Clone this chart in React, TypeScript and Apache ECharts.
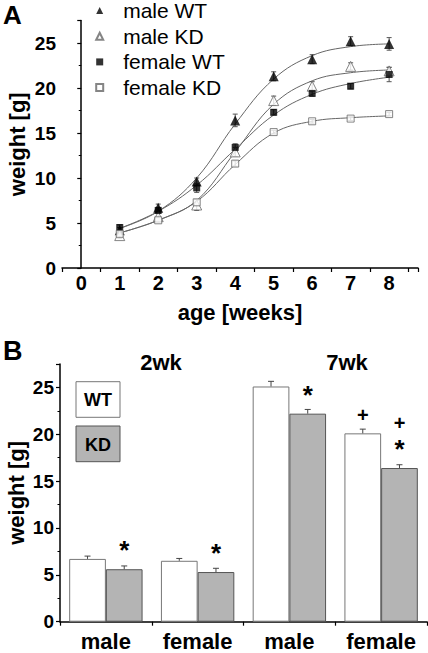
import React, { useEffect, useRef } from 'react';
import * as echarts from 'echarts';

// ---------- Panel A data ----------
const weeks = [1, 2, 3, 4, 5, 6, 7, 8];
const seriesNames = ['male WT', 'male KD', 'female WT', 'female KD'];
const maleWT = [4.2, 6.7, 9.6, 16.4, 21.3, 23.2, 25.2, 24.9];
const maleKD = [3.6, 5.7, 7.0, 12.9, 18.6, 20.2, 22.4, 21.9];
const femaleWT = [4.5, 6.4, 8.9, 13.4, 17.3, 19.4, 20.2, 21.5];
const femaleKD = [3.8, 5.3, 7.3, 11.6, 15.1, 16.3, 16.6, 17.1];
const maleWTErr = [0.3, 0.4, 0.4, 0.7, 0.5, 0.5, 0.5, 0.7];
const maleKDErr = [0.3, 0.4, 0.6, 0.5, 0.5, 0.5, 0.4, 0.4];
const femaleWTErr = [0.3, 0.3, 0.5, 0.4, 0.3, 0.3, 0.3, 0.8];
const femaleKDErr = [0.2, 0.2, 0.3, 0.3, 0.2, 0.2, 0.2, 0.2];
// fitted curves at each week
const maleWTFit = [4.4, 6.3, 10.0, 16.0, 21.0, 23.6, 24.6, 24.9];
const maleKDFit = [3.9, 5.3, 7.5, 12.9, 18.2, 20.8, 21.7, 22.0];
const femaleWTFit = [4.4, 6.3, 9.2, 13.2, 17.0, 19.3, 20.5, 21.2];
const femaleKDFit = [3.9, 5.3, 7.4, 11.5, 15.0, 16.3, 16.7, 16.9];

// ---------- Panel B data ----------
const groups = ['male', 'female', 'male', 'female'];
const ageTitles = ['2wk', '7wk'];
const wtBars = [6.7, 6.5, 25.1, 20.1];
const kdBars = [5.6, 5.3, 22.2, 16.4];
const wtBarErr = [0.3, 0.25, 0.55, 0.45];
const kdBarErr = [0.35, 0.4, 0.45, 0.35];
const wtMarks = ['', '', '', '+'];
const kdMarks = ['*', '*', '*', '+\n*'];

const F = "'Liberation Sans', Arial, Helvetica, sans-serif";
const AX = '#000';

function pts(ys: number[]) {
  return weeks.map((w, i) => [w, ys[i]]);
}
function errPts(ys: number[], es: number[]) {
  return weeks.map((w, i) => [w, ys[i], es[i]]);
}
function markText(m: string) {
  return m
    .split('\n')
    .map((c) => (c === '*' ? '{s|*}' : c === '+' ? '{p|+}' : ''))
    .join('\n');
}

export default function App() {
  const ref = useRef<HTMLDivElement>(null);
  useEffect(() => {
    const chart = echarts.init(ref.current!, null, { renderer: 'svg' });

    const errRenderA = (params: any, api: any) => {
      const x = api.value(0);
      const y = api.value(1);
      const e = api.value(2);
      const t = api.coord([x, y + e]);
      const b = api.coord([x, y - e]);
      const hw = 2.5;
      const st = { stroke: '#555', lineWidth: 1 };
      return {
        type: 'group',
        children: [
          { type: 'line', shape: { x1: t[0], y1: t[1], x2: b[0], y2: b[1] }, style: st },
          { type: 'line', shape: { x1: t[0] - hw, y1: t[1], x2: t[0] + hw, y2: t[1] }, style: st },
          { type: 'line', shape: { x1: b[0] - hw, y1: b[1], x2: b[0] + hw, y2: b[1] }, style: st },
        ],
      };
    };

    const errRenderB = (params: any, api: any) => {
      const idx = api.value(0);
      const v = api.value(1);
      const e = api.value(2);
      const side = api.value(3);
      const band = api.size([1, 0])[0];
      const base = api.coord([idx, v]);
      const top = api.coord([idx, v + e]);
      const x = base[0] + side * 0.2 * band;
      const hw = 3;
      const st = { stroke: '#444', lineWidth: 1 };
      return {
        type: 'group',
        children: [
          { type: 'line', shape: { x1: x, y1: base[1], x2: x, y2: top[1] }, style: st },
          { type: 'line', shape: { x1: x - hw, y1: top[1], x2: x + hw, y2: top[1] }, style: st },
        ],
      };
    };

    const fits = [maleWTFit, maleKDFit, femaleWTFit, femaleKDFit];
    const vals = [maleWT, maleKD, femaleWT, femaleKD];
    const errs = [maleWTErr, maleKDErr, femaleWTErr, femaleKDErr];
    const symbols = ['triangle', 'triangle', 'rect', 'rect'];
    const sizes = [10, 10, 7, 7];
    const filled = [true, false, true, false];

    const yAxisCommon = (gridIndex: number, gap: number) => ({
      type: 'value',
      gridIndex,
      min: 0,
      max: 27.5,
      interval: 5,
      axisLine: { show: true, lineStyle: { color: AX, width: 1.5 } },
      axisTick: { show: true, length: 4, lineStyle: { color: AX, width: 1.2 } },
      minorTick: { show: true, splitNumber: 2, length: 2.5, lineStyle: { color: AX, width: 1 } },
      splitLine: { show: false },
      axisLabel: {
        color: AX,
        fontFamily: F,
        fontWeight: 'bold',
        fontSize: 19,
        margin: 6,
        formatter: (v: number) => (v % 5 === 0 ? String(v) : ''),
      },
      name: 'weight [g]',
      nameLocation: 'middle',
      nameRotate: 90,
      nameGap: gap,
      nameMoveOverlap: false,
      nameTextStyle: { color: AX, fontFamily: F, fontWeight: 'bold', fontSize: 22 },
    });

    const richMarks = {
      s: { fontFamily: F, fontWeight: 'bold', fontSize: 26, lineHeight: 29, color: '#000' },
      p: { fontFamily: F, fontWeight: 'bold', fontSize: 20, lineHeight: 22.5, color: '#000' },
    };

    const option: any = {
      animation: false,
      backgroundColor: '#fff',
      grid: [
        { left: 62, top: 20.5, width: 356, height: 247.5, outerBoundsMode: 'none', containLabel: false },
        { left: 60, top: 364, width: 367, height: 257.7, outerBoundsMode: 'none', containLabel: false },
      ],
      legend: {
        data: seriesNames,
        orient: 'vertical',
        left: 95.2,
        top: 0,
        padding: 0,
        itemWidth: 7,
        itemHeight: 7,
        itemGap: 4.7,
        selectedMode: false,
        textStyle: { fontFamily: F, fontSize: 21, color: '#000', lineHeight: 21, padding: [0, 0, 0, 15] },
      },
      xAxis: [
        {
          type: 'value',
          gridIndex: 0,
          position: 'bottom',
          min: -0.5,
          max: 8.75,
          interval: 0.5,
          axisLine: { show: true, lineStyle: { color: AX, width: 1.5 } },
          axisTick: { show: false },
          splitLine: { show: false },
          axisLabel: {
            color: AX,
            fontFamily: F,
            fontWeight: 'bold',
            fontSize: 20,
            margin: 5,
            formatter: (v: number) => (Number.isInteger(v) && v >= 0 && v <= 8 ? String(v) : ''),
          },
          name: 'age [weeks]',
          nameLocation: 'middle',
          nameGap: 33,
          nameMoveOverlap: false,
          nameTextStyle: { color: AX, fontFamily: F, fontWeight: 'bold', fontSize: 22 },
        },
        {
          // tick marks sit half-way between the week labels
          type: 'value',
          gridIndex: 0,
          position: 'bottom',
          min: 0,
          max: 9.25,
          interval: 1,
          axisLine: { show: false },
          axisTick: { show: true, length: 4, lineStyle: { color: AX, width: 1.2 } },
          axisLabel: { show: false },
          splitLine: { show: false },
        },
        {
          type: 'category',
          gridIndex: 1,
          data: groups,
          axisLine: { show: true, lineStyle: { color: AX, width: 1.5 } },
          axisTick: { show: true, length: 4, lineStyle: { color: AX, width: 1.2 } },
          axisLabel: {
            color: AX, fontFamily: F, fontWeight: 'bold', fontSize: 22, lineHeight: 22,
            margin: 8.5, interval: 0,
          },
        },
      ],
      yAxis: [yAxisCommon(0, 34), yAxisCommon(1, 33)],
      graphic: [
        { type: 'text', left: 3, top: 2, style: { text: 'A', font: `bold 26px ${F}`, fill: '#000' } },
        { type: 'text', left: 3, top: 337, style: { text: 'B', font: `bold 27px ${F}`, fill: '#000' } },
        {
          type: 'text', x: 161, y: 362,
          style: { text: ageTitles[0], font: `bold 22px ${F}`, fill: '#000', align: 'center', verticalAlign: 'middle' },
        },
        {
          type: 'text', x: 347, y: 362,
          style: { text: ageTitles[1], font: `bold 22px ${F}`, fill: '#000', align: 'center', verticalAlign: 'middle' },
        },
        {
          type: 'rect', shape: { x: 76, y: 381.7, width: 44, height: 35.6 },
          style: { fill: '#fff', stroke: '#777', lineWidth: 1 },
        },
        {
          type: 'text', x: 98, y: 400,
          style: { text: 'WT', font: `bold 18px ${F}`, fill: '#000', align: 'center', verticalAlign: 'middle' },
        },
        {
          type: 'rect', shape: { x: 76, y: 426, width: 44, height: 35.7 },
          style: { fill: '#b4b4b4', stroke: '#555', lineWidth: 1 },
        },
        {
          type: 'text', x: 98, y: 444.5,
          style: { text: 'KD', font: `bold 18px ${F}`, fill: '#000', align: 'center', verticalAlign: 'middle' },
        },
      ],
      series: [
        // fitted curves
        ...fits.map((f, i) => ({
          type: 'line',
          name: 'fit ' + seriesNames[i],
          xAxisIndex: 0,
          yAxisIndex: 0,
          data: pts(f),
          smooth: 0.4,
          showSymbol: false,
          symbol: 'none',
          silent: true,
          lineStyle: { color: '#666', width: 1 },
          z: 1,
        })),
        // error bars
        ...errs.map((e, i) => ({
          type: 'custom',
          name: 'err ' + seriesNames[i],
          xAxisIndex: 0,
          yAxisIndex: 0,
          data: errPts(vals[i], e),
          renderItem: errRenderA,
          silent: true,
          z: 2,
        })),
        // data points
        ...vals.map((v, i) => ({
          type: 'scatter',
          name: seriesNames[i],
          xAxisIndex: 0,
          yAxisIndex: 0,
          data: pts(v),
          symbol: symbols[i],
          symbolSize: sizes[i],
          itemStyle: filled[i]
            ? { color: '#000' }
            : { color: '#fff', borderColor: '#666', borderWidth: 1 },
          z: 3,
        })),
        // Panel B bars
        {
          type: 'bar',
          name: 'WT',
          xAxisIndex: 2,
          yAxisIndex: 1,
          data: wtBars,
          barWidth: '40%',
          barGap: '0%',
          itemStyle: { color: '#fff', borderColor: '#777', borderWidth: 1 },
          label: {
            show: true,
            position: 'top',
            distance: 7,
            formatter: (p: any) => markText(wtMarks[p.dataIndex]),
            rich: richMarks,
          },
        },
        {
          type: 'bar',
          name: 'KD',
          xAxisIndex: 2,
          yAxisIndex: 1,
          data: kdBars,
          barWidth: '40%',
          barGap: '0%',
          itemStyle: { color: '#b4b4b4', borderColor: '#555', borderWidth: 1 },
          label: {
            show: true,
            position: 'top',
            distance: 4.3,
            formatter: (p: any) => markText(kdMarks[p.dataIndex]),
            rich: richMarks,
          },
        },
        {
          type: 'custom',
          name: 'bar errors',
          xAxisIndex: 2,
          yAxisIndex: 1,
          data: [
            ...wtBars.map((v, i) => [i, v, wtBarErr[i], -1]),
            ...kdBars.map((v, i) => [i, v, kdBarErr[i], 1]),
          ],
          renderItem: errRenderB,
          silent: true,
          z: 3,
        },
      ],
    };

    chart.setOption(option);
    return () => chart.dispose();
  }, []);
  return (
    <div
      ref={ref}
      style={{ position: 'absolute', left: 0, top: 0, width: 428, height: 653, background: '#fff' }}
    />
  );
}
